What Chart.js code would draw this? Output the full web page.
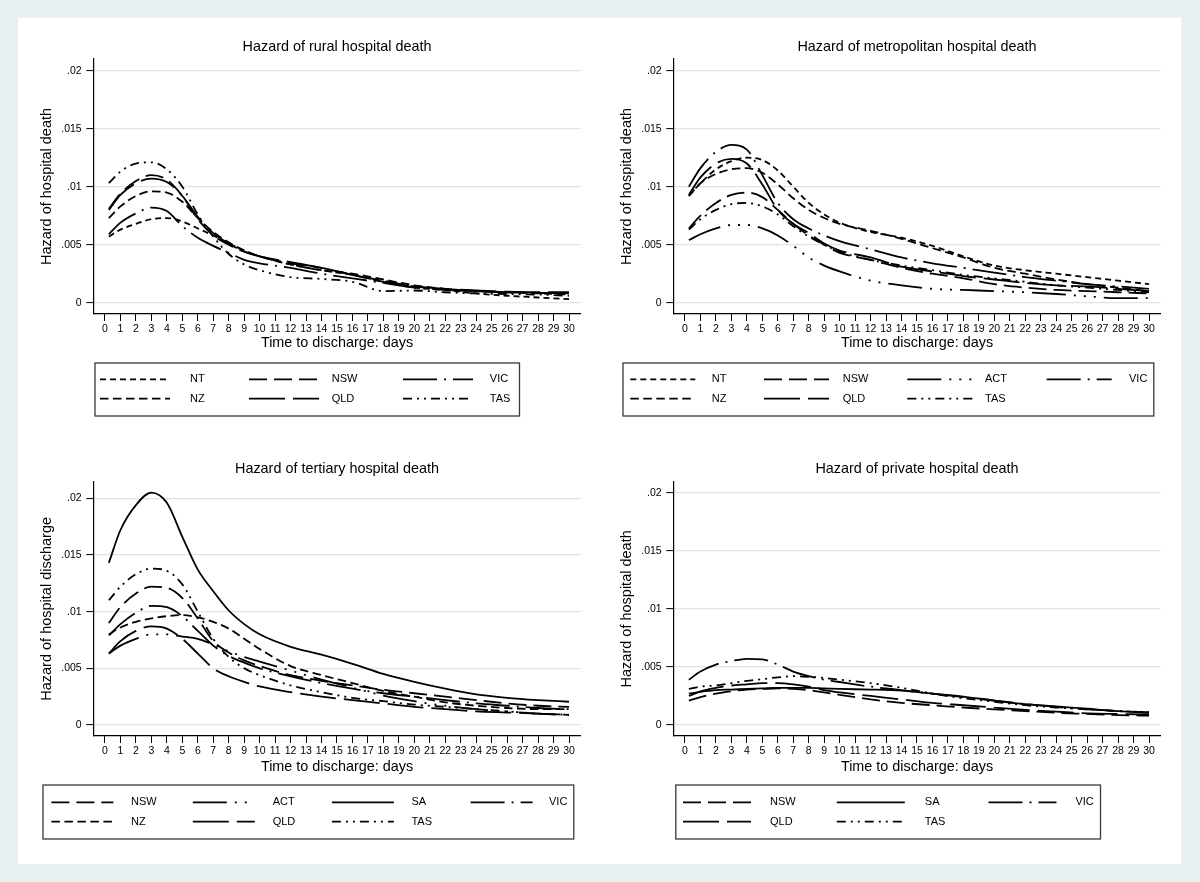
<!DOCTYPE html>
<html>
<head>
  <meta charset="utf-8">
  <title>Hazard of hospital death</title>
  <style>
    html, body { margin: 0; padding: 0; }
    body { background: #e9f0f2; width: 1200px; height: 882px; overflow: hidden; position: relative; }
    #sheet { position: absolute; left: 18px; top: 18px; width: 1163px; height: 846px; background: #fff; }
    canvas { position: absolute; }
  </style>
</head>
<body>
  <div id="sheet"></div>
  <canvas id="rural" width="580" height="410" style="left:20px;top:20px"></canvas>
  <canvas id="metro" width="580" height="410" style="left:600px;top:20px"></canvas>
  <canvas id="tertiary" width="580" height="422" style="left:20px;top:440px"></canvas>
  <canvas id="private" width="580" height="422" style="left:600px;top:440px"></canvas>

  <script src="https://cdn.jsdelivr.net/npm/chart.js@4.4.1/dist/chart.umd.min.js"></script>
  <script>
    // days since admission where the hazard curves were read
    var days = [0.25, 1, 2, 3, 4, 5, 6, 7, 8, 9, 10, 12, 14, 16, 18, 20, 22, 24, 26, 28, 30];

    // rural hospitals
    var ruralNames = ['NT', 'NZ', 'NSW', 'QLD', 'VIC', 'TAS'];
    var ruralNT  = [.0057, .0063, .0068, .0072, .0073, .0070, .0064, .0058, .0051, .0045, .0040, .0033, .0028, .0024, .0018, .0013, .0011, .0008, .0006, .00045, .0003];
    var ruralNZ  = [.0073, .0083, .0092, .0096, .0095, .0087, .0073, .0061, .0052, .0045, .0040, .0033, .0028, .0025, .0020, .0015, .0012, .0010, .0009, .0008, .0007];
    var ruralNSW = [.0081, .0094, .0105, .0110, .0106, .0092, .0072, .0058, .0050, .0044, .0040, .0034, .0030, .0024, .0019, .0014, .00115, .0010, .0009, .00085, .0008];
    var ruralQLD = [.0080, .0093, .0103, .0107, .0104, .0092, .0074, .0060, .0051, .0044, .0040, .0035, .0030, .0024, .0018, .0014, .0012, .00105, .00095, .0009, .0009];
    var ruralVIC = [.0059, .0069, .0077, .0082, .0079, .0066, .0056, .0049, .0043, .0037, .0034, .0030, .0025, .0021, .0017, .0013, .0011, .0010, .0009, .00085, .0008];
    var ruralTAS = [.0103, .0113, .0120, .0121, .0115, .0100, .0076, .0057, .0042, .0033, .0028, .0022, .00205, .0018, .0010, .00105, .0009, .0008, .00075, .0007, .0006];

    // metropolitan hospitals
    var metroNames = ['NT', 'NZ', 'NSW', 'QLD', 'ACT', 'TAS', 'VIC'];
    var metroNT  = [.0092, .0103, .0115, .0122, .0125, .0123, .0114, .0100, .0086, .0076, .0069, .0061, .0056, .0049, .0040, .0032, .0028, .0025, .0022, .0019, .0016];
    var metroNZ  = [.0092, .0103, .0111, .0115, .0116, .0112, .0102, .0090, .0080, .0073, .0068, .0062, .0055, .0047, .0039, .0030, .0025, .0020, .0016, .0013, .0010];
    var metroNSW = [.0064, .0075, .0086, .0093, .0095, .0091, .0080, .0068, .0058, .0050, .0043, .0037, .0030, .0025, .0021, .0016, .0013, .0011, .0010, .0009, .0008];
    var metroQLD = [.0093, .0108, .0120, .0124, .0120, .0102, .0080, .0068, .0060, .0051, .0045, .0039, .0031, .0027, .0023, .0020, .0017, .0015, .0014, .0012, .0010];
    var metroACT = [.0054, .0059, .0064, .0067, .0067, .0064, .0058, .0049, .0039, .0032, .0027, .0019, .0015, .0012, .0011, .0010, .0009, .00075, .00055, .0004, .0004];
    var metroTAS = [.0063, .0072, .0080, .0085, .0086, .0083, .0076, .0066, .0057, .0050, .0044, .0037, .0032, .0028, .0024, .0021, .0018, .0015, .0013, .0011, .0009];
    var metroVIC = [.0100, .0116, .0130, .0136, .0132, .0110, .0086, .0072, .0064, .0058, .0053, .0046, .0039, .0034, .0030, .0026, .0022, .0019, .0016, .0014, .0012];

    // tertiary hospitals
    var tertNames = ['NSW', 'NZ', 'ACT', 'QLD', 'SA', 'TAS', 'VIC'];
    var tertNSW = [.0090, .0104, .0116, .0122, .0121, .0112, .0094, .0074, .0064, .0057, .0052, .0044, .0039, .0035, .0031, .0028, .0025, .0022, .0019, .0017, .0016];
    var tertNZ  = [.0080, .0086, .0091, .0094, .0096, .0097, .0095, .0091, .0085, .0076, .0067, .0052, .0044, .0037, .0030, .0025, .0020, .0017, .0015, .0014, .0014];
    var tertACT = [.0063, .0070, .0076, .0080, .0080, .0078, .0076, .0071, .0065, .0060, .0056, .0048, .0040, .0033, .0026, .0021, .0017, .0014, .0012, .0010, .0009];
    var tertQLD = [.0063, .0074, .0083, .0087, .0085, .0076, .0063, .0050, .0043, .0038, .0034, .0029, .0025, .0022, .0019, .0016, .0014, .0012, .0011, .0010, .0009];
    var tertSA  = [.0143, .0172, .0194, .0205, .0196, .0166, .0137, .0118, .0101, .0089, .0080, .0069, .0062, .0054, .0045, .0038, .0032, .0027, .0024, .0022, .00205];
    var tertTAS = [.0110, .0122, .0133, .0138, .0136, .0124, .0100, .0076, .0060, .0050, .0044, .0035, .0029, .0024, .0021, .0018, .0016, .0014, .0012, .0010, .0009];
    var tertVIC = [.0079, .0089, .0099, .0105, .0104, .0096, .0083, .0070, .0061, .0055, .0050, .0043, .0037, .0032, .0028, .0025, .0022, .0019, .0017, .0015, .0014];

    // private hospitals
    var privNames = ['NSW', 'QLD', 'SA', 'TAS', 'VIC'];
    var privNSW = [.0021, .0024, .0027, .0029, .00305, .0031, .00315, .0031, .0030, .0028, .0026, .0022, .0019, .0017, .0015, .00135, .0012, .00105, .00095, .00085, .0008];
    var privQLD = [.0025, .0029, .0032, .0034, .0035, .0036, .0036, .0035, .0033, .0030, .0028, .0025, .0022, .0019, .0017, .0015, .0013, .00115, .0010, .00095, .0009];
    var privSA  = [.0027, .00285, .0030, .00305, .0031, .00315, .0032, .0032, .0032, .00315, .0031, .00305, .00295, .0027, .00245, .0021, .0018, .0016, .0014, .0012, .0011];
    var privTAS = [.0031, .0033, .0034, .0036, .0038, .00395, .0041, .0042, .00415, .00405, .0039, .0036, .0032, .0027, .0023, .0020, .0017, .0015, .00135, .0012, .0011];
    var privVIC = [.0039, .0046, .0052, .0055, .0057, .00565, .0052, .0046, .0042, .0039, .0037, .0033, .0030, .0027, .0024, .0021, .0018, .00155, .00135, .0012, .00105];

    // line pattern per region (stata style)
    var dash = {
      NT:  [6, 4],
      NZ:  [8.5, 4.5],
      NSW: [18, 7],
      QLD: [36, 8],
      VIC: [34, 7, 2, 7],
      ACT: [34, 8, 2, 8, 2, 8, 2, 8],
      TAS: [9, 5, 2, 5, 2, 5],
      SA:  []
    };

    var FONT = '"Liberation Sans", Arial, Helvetica, sans-serif';

    // legend in a framed box, two rows, filled column by column
    var boxLegend = {
      id: 'boxLegend',
      afterDraw: function (chart, args, opts) {
        var ctx = chart.ctx;
        ctx.save();
        ctx.strokeStyle = '#3a3a3a';
        ctx.lineWidth = 1.3;
        ctx.setLineDash([]);
        ctx.strokeRect(opts.box[0], opts.box[1], opts.box[2], opts.box[3]);
        ctx.font = '11px ' + FONT;
        ctx.fillStyle = '#000';
        ctx.textBaseline = 'middle';
        ctx.textAlign = 'left';
        chart.data.datasets.forEach(function (ds, i) {
          var col = opts.cols[Math.floor(i / 2)];
          var y = opts.rows[i % 2];
          ctx.beginPath();
          ctx.setLineDash(ds.borderDash);
          ctx.lineWidth = ds.borderWidth;
          ctx.strokeStyle = '#000';
          ctx.moveTo(col[0], y);
          ctx.lineTo(col[0] + opts.sampleWidth, y);
          ctx.stroke();
          ctx.fillText(ds.label, col[1], y);
        });
        ctx.restore();
      }
    };

    function fmt(v) {
      if (Math.abs(v) < 1e-9) return '0';
      return v.toFixed(3).replace(/0+$/, '').replace(/^0/, '');
    }

    function makeChart(id, title, yTitle, names, values, g) {
      var datasets = names.map(function (n, i) {
        return {
          label: n,
          data: days.map(function (d, j) { return { x: d, y: values[i][j] }; }),
          borderColor: '#000',
          borderWidth: 1.8,
          borderDash: dash[n],
          pointRadius: 0,
          cubicInterpolationMode: 'monotone',
          fill: false
        };
      });
      var titleSize = 14.4, xAxisH = 45;
      var half = titleSize * 1.2 / 2;
      new Chart(document.getElementById(id), {
        type: 'line',
        data: { datasets: datasets },
        options: {
          responsive: false,
          animation: false,
          layout: { padding: { left: 0, top: 0, right: 19.3, bottom: g.height - g.bottom - xAxisH } },
          plugins: {
            legend: { display: false },
            tooltip: { enabled: false },
            title: {
              display: true,
              text: title,
              fullSize: false,
              color: '#000',
              font: { family: FONT, size: titleSize, weight: 'normal' },
              padding: { top: g.titleY - half, bottom: g.top - g.titleY - half }
            },
            boxLegend: g.legend
          },
          scales: {
            x: {
              type: 'linear',
              min: -0.756,
              max: 30.756,
              afterFit: function (s) { s.height = xAxisH; },
              border: { display: true, color: '#000', width: 1.2 },
              grid: { drawOnChartArea: false, tickColor: '#000', tickLength: 7, tickWidth: 1 },
              ticks: {
                stepSize: 1, includeBounds: false, autoSkip: false, maxRotation: 0,
                padding: 2, color: '#000', font: { family: FONT, size: 10.5 }
              },
              title: {
                display: true,
                text: 'Time to discharge: days',
                color: '#000',
                font: { family: FONT, size: titleSize },
                padding: { top: 0, bottom: g.bottom + xAxisH - g.xTitleY - half }
              }
            },
            y: {
              min: g.yMin,
              max: g.yMax,
              afterFit: function (s) { s.width = 73.3; },
              border: { display: true, color: '#000', width: 1.2 },
              grid: { color: '#e3e3e3', lineWidth: 1.2, tickColor: '#000', tickLength: 7, tickWidth: 1 },
              ticks: {
                stepSize: 0.005, includeBounds: false, padding: 4.6,
                color: '#000', font: { family: FONT, size: 10.5 },
                callback: function (v) { return fmt(v); }
              },
              title: {
                display: true,
                text: yTitle,
                color: '#000',
                font: { family: FONT, size: 14.5 },
                padding: { top: 17.9, bottom: 0 }
              }
            }
          }
        },
        plugins: [boxLegend]
      });
    }

    makeChart('rural', 'Hazard of rural hospital death', 'Hazard of hospital death', ruralNames,
      [ruralNT, ruralNZ, ruralNSW, ruralQLD, ruralVIC, ruralTAS],
      { height: 410, top: 39, bottom: 294, titleY: 26.7, xTitleY: 323, yMin: -0.000974, yMax: 0.02101,
        legend: { box: [75, 343, 424.5, 53], rows: [359.3, 378.7], sampleWidth: 70,
                  cols: [[80, 170], [229, 311.7], [383, 469.8]] } });

    makeChart('metro', 'Hazard of metropolitan hospital death', 'Hazard of hospital death', metroNames,
      [metroNT, metroNZ, metroNSW, metroQLD, metroACT, metroTAS, metroVIC],
      { height: 410, top: 39, bottom: 294, titleY: 26.7, xTitleY: 323, yMin: -0.000974, yMax: 0.02101,
        legend: { box: [23, 343, 530.8, 53], rows: [359.3, 378.7], sampleWidth: 65,
                  cols: [[30.3, 111.7], [164, 242.7], [307.3, 385], [446.7, 529]] } });

    makeChart('tertiary', 'Hazard of tertiary hospital death', 'Hazard of hospital discharge', tertNames,
      [tertNSW, tertNZ, tertACT, tertQLD, tertSA, tertTAS, tertVIC],
      { height: 422, top: 41.7, bottom: 296, titleY: 29.3, xTitleY: 326.7, yMin: -0.00097, yMax: 0.02146,
        legend: { box: [23, 345, 530.8, 54], rows: [362.3, 381.7], sampleWidth: 62,
                  cols: [[31.4, 111], [172.8, 252.7], [311.9, 391.4], [450.6, 529]] } });

    makeChart('private', 'Hazard of private hospital death', 'Hazard of hospital death', privNames,
      [privNSW, privQLD, privSA, privTAS, privVIC],
      { height: 422, top: 41.7, bottom: 296, titleY: 29.3, xTitleY: 326.7, yMin: -0.00095, yMax: 0.02095,
        legend: { box: [75.8, 345, 424.7, 54], rows: [362.3, 381.7], sampleWidth: 68,
                  cols: [[83, 170], [236.8, 324.8], [388.5, 475.4]] } });
  </script>
</body>
</html>
